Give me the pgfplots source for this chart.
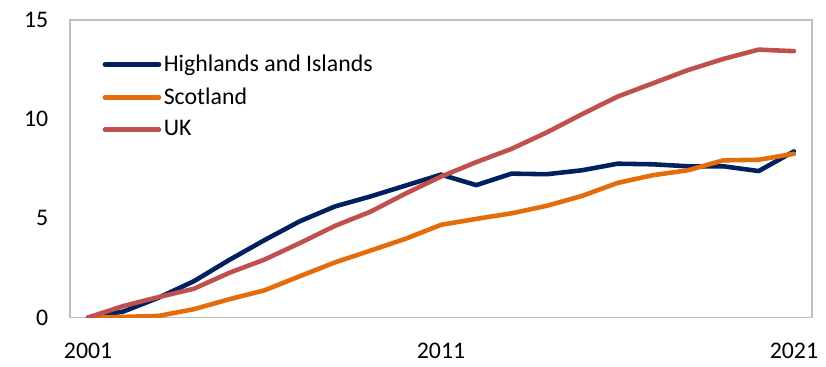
\documentclass[border=0pt]{standalone}
\usepackage{pgfplots}
\pgfplotsset{compat=1.18}
\usepackage{fontspec}
\setmainfont{Carlito}
\definecolor{hinavy}{HTML}{002060}
\definecolor{scorange}{HTML}{E46C0A}
\definecolor{ukred}{HTML}{C0504D}
\definecolor{framegray}{HTML}{BFBFBF}
\begin{document}
\fontsize{12}{14}\selectfont
\begin{tikzpicture}
\begin{axis}[
  scale only axis,
  width=373.5pt, height=150pt,
  xmin=2000.5, xmax=2021.5,
  ymin=0, ymax=15,
  xtick={2001,2011,2021},
  xticklabels={2001,2011,2021},
  ytick={0,5,10,15},
  axis line style={framegray, line width=1pt},
  tick style={draw=none},
  /pgf/number format/assume math mode=true,
  ticklabel style={font=\fontsize{12}{14}\selectfont},
  xticklabel style={yshift=-8.5pt},
  yticklabel style={xshift=-7pt},
  every axis plot/.append style={line width=2.3pt, line cap=round, line join=round},
  legend style={draw=none, fill=none, at={(axis description cs:0,1)}, anchor=north west,
    xshift=13pt, yshift=-14pt, row sep=4pt,
    nodes={inner sep=1.25pt, font=\fontsize{12}{14}\selectfont}},
  legend cell align=left,
  legend image code/.code={\draw[#1, line width=2.6pt, line cap=round] (0pt,0pt) -- (27pt,0pt);},
]
\addplot[hinavy] coordinates {
(2001,0) (2002,0.3) (2003,1.0) (2004,1.83) (2005,2.9) (2006,3.9) (2007,4.85)
(2008,5.6) (2009,6.1) (2010,6.65) (2011,7.2) (2012,6.67) (2013,7.25) (2014,7.22)
(2015,7.42) (2016,7.75) (2017,7.72) (2018,7.62) (2019,7.62) (2020,7.38) (2021,8.37)};
\addlegendentry{Highlands and Islands}
\addplot[scorange] coordinates {
(2001,0) (2002,0.03) (2003,0.08) (2004,0.42) (2005,0.92) (2006,1.37) (2007,2.08)
(2008,2.78) (2009,3.37) (2010,3.97) (2011,4.67) (2012,4.97) (2013,5.25) (2014,5.63)
(2015,6.13) (2016,6.78) (2017,7.17) (2018,7.42) (2019,7.92) (2020,7.95) (2021,8.25)};
\addlegendentry{Scotland}
\addplot[ukred] coordinates {
(2001,0) (2002,0.58) (2003,1.03) (2004,1.45) (2005,2.25) (2006,2.92) (2007,3.75)
(2008,4.62) (2009,5.33) (2010,6.25) (2011,7.1) (2012,7.83) (2013,8.5) (2014,9.33)
(2015,10.25) (2016,11.13) (2017,11.8) (2018,12.47) (2019,13.03) (2020,13.5) (2021,13.42)};
\addlegendentry{UK}
\end{axis}
\path[use as bounding box] (-35.5pt,-21.5pt) rectangle (377.5pt,160pt);
\end{tikzpicture}
\end{document}
